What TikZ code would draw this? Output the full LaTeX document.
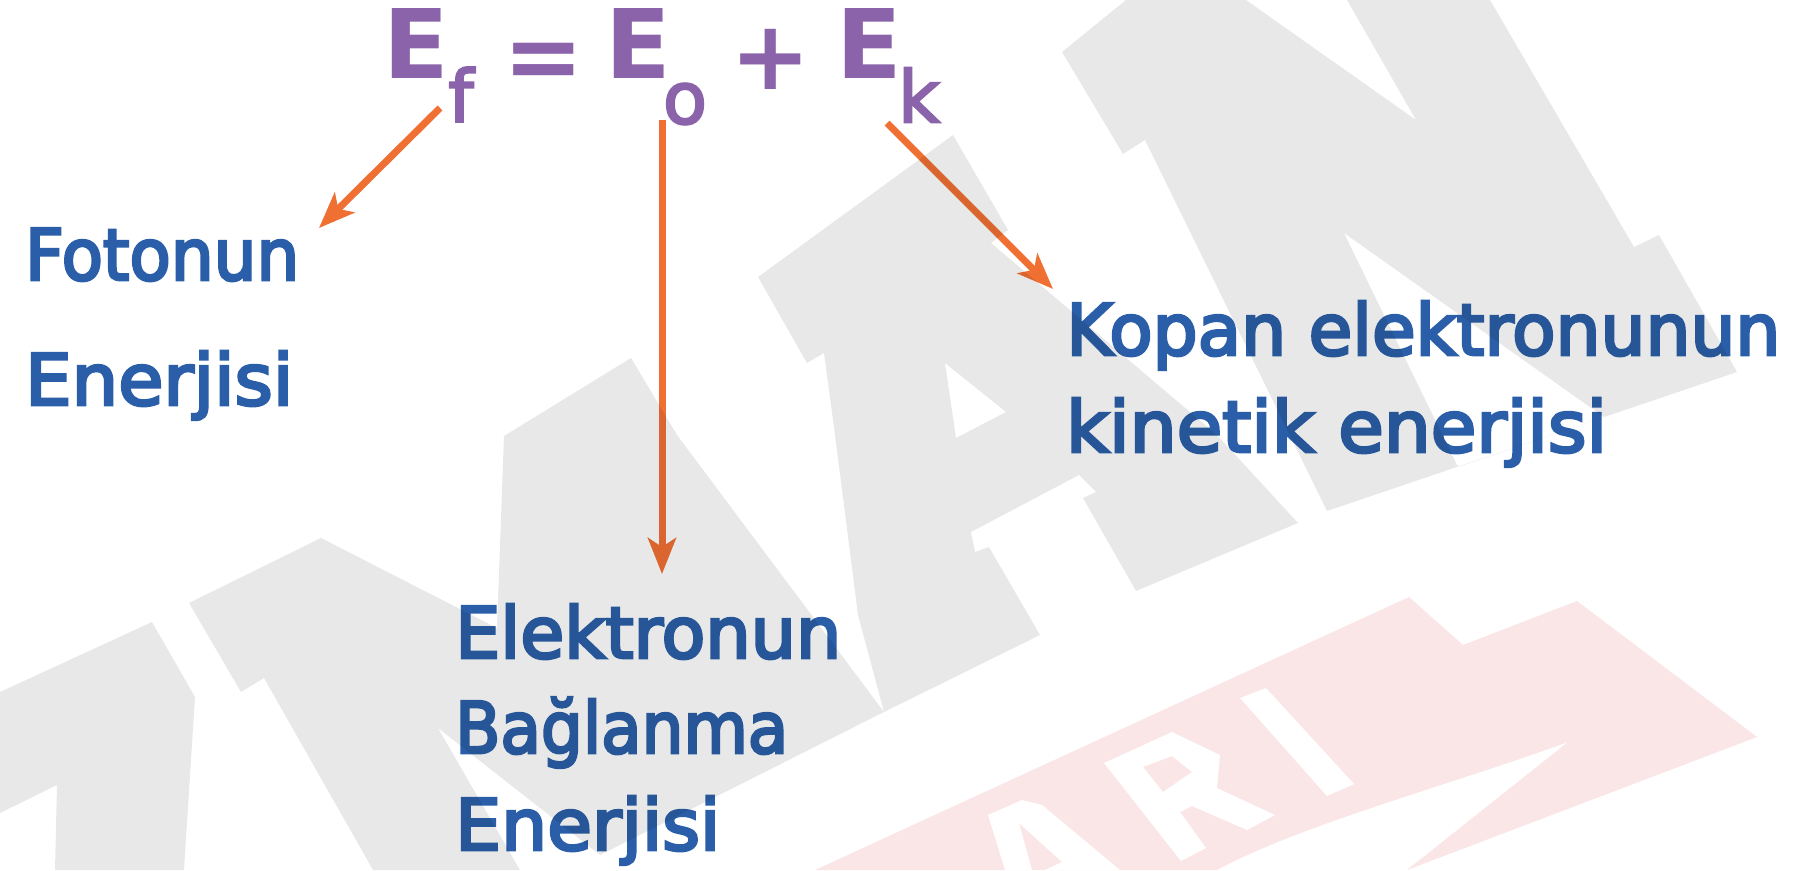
\documentclass[tikz,border=0pt]{standalone}
\usepackage{fontspec}
\usetikzlibrary{arrows.meta}
\newfontfamily\eqfont{DejaVu Sans}
\newfontfamily\subfont{DejaVu Sans}[FakeBold=3]
\newfontfamily\txtfont{DejaVu Sans}[FakeBold=4]
\definecolor{eqpurple}{HTML}{8B63AA}
\definecolor{txtblue}{HTML}{2A5EA8}
\definecolor{arrorange}{HTML}{F07033}
\definecolor{wmred}{RGB}{220,30,40}
\newsavebox\fitbox
\newcommand\fitw[2]{\sbox\fitbox{#2}\pgfmathsetmacro\fitf{#1/\the\wd\fitbox}\scalebox{\fitf}[1]{\usebox\fitbox}}
\begin{document}
\begin{tikzpicture}[x=1pt,y=-1pt,
  eqch/.style={inner sep=0pt, text=eqpurple, font=\eqfont\bfseries\fontsize{96}{100}\selectfont},
  eqsub/.style={inner sep=0pt, text=eqpurple, font=\subfont\fontsize{72}{76}\selectfont},
  lbl/.style={inner sep=0pt, anchor=base west, text=txtblue, font=\txtfont\fontsize{71}{80}\selectfont},
  arr/.style={draw=arrorange, line width=7pt, -{Stealth[length=36pt,width=28pt,inset=9pt]}},
  wmgray/.style={fill=black, fill opacity=0.09},
  wmpink/.style={fill=wmred, fill opacity=0.11}]
\useasboundingbox (0,0) rectangle (1796,870);
\fill[white] (0,0) rectangle (1796,870);
% equation
\node[eqch] (Ef) at (416,44) {E};
\node[eqsub] (sf) at (461,94.5) {f};
\node[eqch, anchor=base] (eq) at (544,89) {=};
\node[eqch] (Eo) at (638,44) {E};
\node[eqsub] (so) at (685,104) {o};
\node[eqch, anchor=base] (pl) at (771,89) {+};
\node[eqch] (Ek) at (869,44) {E};
\node[eqsub] (sk) at (919,95) {k};
% labels
\node[lbl] (foto1) at (25,280) {\fitw{274}{Fotonun}};
\node[lbl] (foto2) at (25,405) {\fitw{268}{Enerjisi}};
\node[lbl] (bag1) at (455,658) {\fitw{386}{Elektronun}};
\node[lbl] (bag2) at (455,753) {\fitw{333}{Bağlanma}};
\node[lbl] (bag3) at (455,850) {\fitw{265}{Enerjisi}};
\node[lbl] (kin1) at (1066,355) {\fitw{714}{Kopan elektronunun}};
\node[lbl] (kin2) at (1066,452) {\fitw{541}{kinetik enerjisi}};
% arrows
\coordinate (a1s) at (440,108);
\coordinate (a1e) at (319,228);
\coordinate (a2s) at (662,120);
\coordinate (a2e) at (662,574);
\coordinate (a3s) at (887,123);
\coordinate (a3e) at (1053,289);
\draw[arr] (a1s) -- (a1e);
\draw[arr] (a2s) -- (a2e);
\draw[arr] (a3s) -- (a3e);
% watermark (overlay)
\fill[wmgray, even odd rule]
  (1062,52) -- (1126,0) -- (1246,0) -- (1416,120) -- (1347,0) -- (1490,0) -- (1634,247)
  -- (1659,235) -- (1737,372) -- (1327,511) -- (1145,140) -- (1123,154) -- cycle
  (1344,233) -- (1458,467) -- (1604,417) -- cycle;
\fill[wmgray, even odd rule]
  (953,135) -- (758,277) -- (807,363) -- (824,353) -- (835,435) -- (858,615) -- (884,712)
  -- (1040,635) -- (989,547) -- (975,552) -- (971,532) -- (1079,475) -- (1096,492)
  -- (1083,498) -- (1136,591) -- (1298,523) -- (1217,435) -- (991,243) -- (1008,230) -- cycle
  (945,363) -- (1006,412) -- (956,438) -- cycle;
\fill[wmgray]
  (189,603) -- (321,538) -- (497,628) -- (504,436) -- (631,358) -- (677,435) -- (884,712)
  -- (600,855) -- (438,728) -- (520,870) -- (373,870) -- (264,678) -- (241,692) -- cycle;
\fill[wmgray]
  (0,692) -- (152,622) -- (195,697) -- (184,870) -- (55,870) -- (57,785) -- (0,813) -- cycle;
\fill[wmpink]
  (815,870) -- (1409,597) -- (1463,645) -- (1577,601) -- (1757,737) -- (1407,870)
  -- (1568,742) .. controls (1450,785) and (1300,825) .. (1217,870) -- cycle;
\fill[white, even odd rule]
  (1104,763) -- (1172,732) -- (1220,755) -- (1217,788) -- (1275,815) -- (1247,830)
  -- (1192,806) -- (1180,812) -- (1206,848) -- (1181,861) -- cycle
  (1143,767) -- (1172,756) -- (1192,772) -- (1163,792) -- cycle;
\fill[white] (1240,698) -- (1266,688) -- (1354,784) -- (1327,796) -- cycle;
\fill[white, even odd rule]
  (1005,870) -- (988,815) -- (1022,800) -- (1042,805) -- (1120,870) -- cycle
  (1019,823) -- (1062,862) -- (1045,870) -- (1032,870) -- cycle;
\end{tikzpicture}
\end{document}
